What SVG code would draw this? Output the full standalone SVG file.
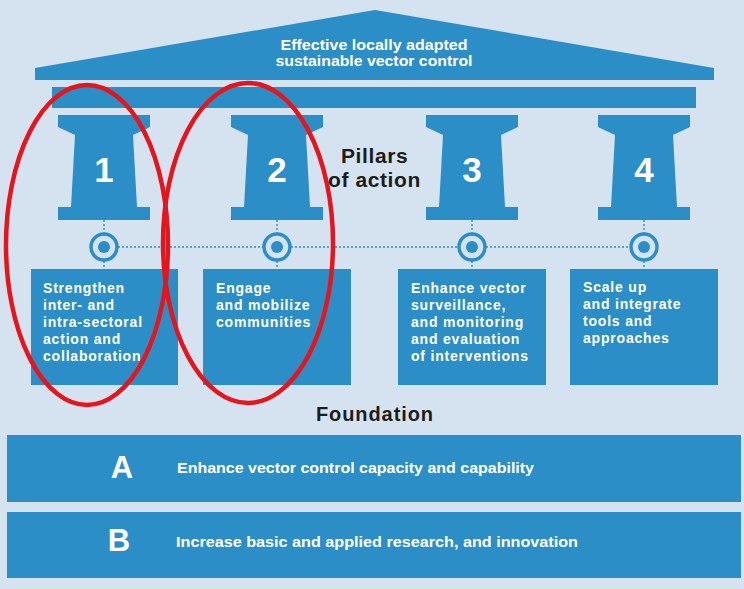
<svg xmlns="http://www.w3.org/2000/svg" width="744" height="589" viewBox="0 0 744 589">
<defs>
<style>
.bl{fill:#2b8ec6}
.wt{fill:#ffffff;font-family:"Liberation Sans",Arial,sans-serif;font-weight:bold}
.box{font-size:14px;letter-spacing:0.8px}
.num{font-size:35px;text-anchor:middle}
.dk{fill:#1c1c1c;font-family:"Liberation Sans",Arial,sans-serif;font-weight:bold}
.dot{stroke:#2b8ec6;stroke-width:1.4;stroke-dasharray:2 2;fill:none}
.ring{fill:none;stroke:#2b8ec6;stroke-width:3.5}
.red{fill:none;stroke:#e8141c;stroke-width:4.5}
</style>
<path id="pil" d="M0,0 H92 V12 L75,20 L79,92 H92 V105 H0 V92 H13 L17,20 L0,12 Z"/>
</defs>
<rect width="744" height="589" fill="#d5e3f0"/>
<g id="roof">
<path class="bl" d="M35,80 V68 L375,10 L714,68 V80 Z"/>
<text class="wt" x="374" y="50" font-size="14.5" text-anchor="middle" textLength="187" lengthAdjust="spacingAndGlyphs">Effective locally adapted</text>
<text class="wt" x="374" y="66" font-size="14.5" text-anchor="middle" textLength="197" lengthAdjust="spacingAndGlyphs">sustainable vector control</text>
</g>
<g id="beam"><rect class="bl" x="52" y="87" width="644" height="21"/></g>
<g id="pillar1"><use href="#pil" class="bl" x="58" y="115"/><text class="wt num" x="104" y="182">1</text></g>
<g id="pillar2"><use href="#pil" class="bl" x="231" y="115"/><text class="wt num" x="277" y="182">2</text></g>
<g id="pillar3"><use href="#pil" class="bl" x="426" y="115"/><text class="wt num" x="472" y="182">3</text></g>
<g id="pillar4"><use href="#pil" class="bl" x="598" y="115"/><text class="wt num" x="644" y="182">4</text></g>
<g id="pillars-label">
<text class="dk" x="341" y="163" font-size="21" letter-spacing="0.6">Pillars</text>
<text class="dk" x="328" y="187" font-size="21" letter-spacing="0.6">of action</text>
</g>
<g id="connectors">
<path class="dot" d="M104,220 V233 M277,220 V233 M472,220 V233 M644,220 V233 M104,261 V269 M277,261 V269 M472,261 V269 M644,261 V269 M118,247 H263 M291,247 H458 M486,247 H630"/>
<circle class="ring" cx="104" cy="247" r="13"/><circle class="bl" cx="104" cy="247" r="6"/>
<circle class="ring" cx="277" cy="247" r="13"/><circle class="bl" cx="277" cy="247" r="6"/>
<circle class="ring" cx="472" cy="247" r="13"/><circle class="bl" cx="472" cy="247" r="6"/>
<circle class="ring" cx="644" cy="247" r="13"/><circle class="bl" cx="644" cy="247" r="6"/>
</g>
<g id="box1"><rect class="bl" x="31" y="269" width="147" height="116"/>
<text class="wt box" x="43" y="293">Strengthen</text>
<text class="wt box" x="43" y="310">inter- and</text>
<text class="wt box" x="43" y="327">intra-sectoral</text>
<text class="wt box" x="43" y="344">action and</text>
<text class="wt box" x="43" y="361">collaboration</text></g>
<g id="box2"><rect class="bl" x="203" y="269" width="148" height="116"/>
<text class="wt box" x="216" y="293">Engage</text>
<text class="wt box" x="216" y="310">and mobilize</text>
<text class="wt box" x="216" y="327">communities</text></g>
<g id="box3"><rect class="bl" x="398" y="269" width="148" height="116"/>
<text class="wt box" x="411" y="293">Enhance vector</text>
<text class="wt box" x="411" y="310">surveillance,</text>
<text class="wt box" x="411" y="327">and monitoring</text>
<text class="wt box" x="411" y="344">and evaluation</text>
<text class="wt box" x="411" y="361">of interventions</text></g>
<g id="box4"><rect class="bl" x="570" y="269" width="148" height="116"/>
<text class="wt box" x="583" y="292">Scale up</text>
<text class="wt box" x="583" y="309">and integrate</text>
<text class="wt box" x="583" y="326">tools and</text>
<text class="wt box" x="583" y="343">approaches</text></g>
<g id="foundation-label"><text class="dk" x="316" y="421" font-size="20" textLength="117">Foundation</text></g>
<g id="foundationA"><rect class="bl" x="7" y="435" width="734" height="67"/>
<text class="wt" x="122" y="478" font-size="31" text-anchor="middle">A</text>
<text class="wt" x="177" y="473" font-size="15" textLength="357" lengthAdjust="spacingAndGlyphs">Enhance vector control capacity and capability</text></g>
<g id="foundationB"><rect class="bl" x="7" y="512" width="734" height="66"/>
<text class="wt" x="119" y="551" font-size="31" text-anchor="middle">B</text>
<text class="wt" x="176" y="547" font-size="15" textLength="402" lengthAdjust="spacingAndGlyphs">Increase basic and applied research, and innovation</text></g>
<g id="highlights">
<ellipse class="red" cx="87" cy="245" rx="81" ry="160"/>
<ellipse class="red" cx="248" cy="243" rx="85" ry="160"/>
</g>
</svg>
